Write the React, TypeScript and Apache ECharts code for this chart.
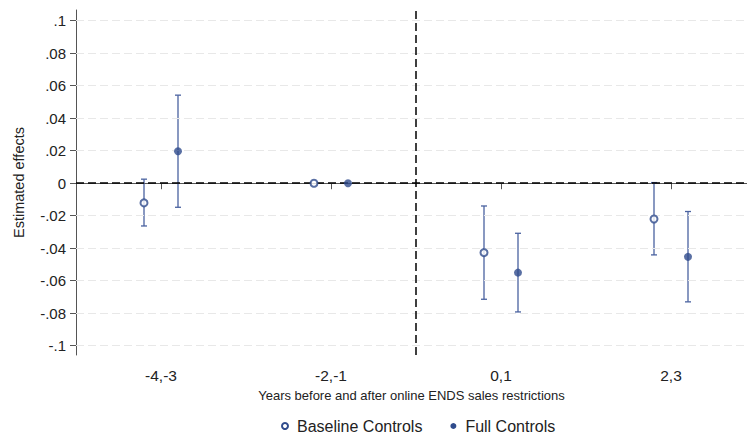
import React, { useEffect, useRef } from "react";
import * as echarts from "echarts";

const categories = ["-4,-3", "-2,-1", "0,1", "2,3"];
const yTicks = [-0.1, -0.08, -0.06, -0.04, -0.02, 0, 0.02, 0.04, 0.06, 0.08, 0.1];

const baselineEst = [-0.0121, 0, -0.0427, -0.022];
const baselineLow = [-0.0263, 0, -0.0714, -0.0441];
const baselineHigh = [0.0025, 0, -0.014, 0.0004];

const fullEst = [0.0197, 0, -0.055, -0.0453];
const fullLow = [-0.0148, 0, -0.0792, -0.073];
const fullHigh = [0.0542, 0, -0.0308, -0.0174];

const OFFSET = 0.1;
const FONT = "'Liberation Sans', Arial, sans-serif";
const LINE_COLOR = "#4a62a0";
const POINT_COLOR = "#2f4b8c";

function fmtY(v: number): string {
  const r = Math.round(v * 100) / 100;
  if (r === 0) return "0";
  let s = String(r);
  s = s.replace("0.", ".");
  return s;
}

export default function App() {
  const ref = useRef<HTMLDivElement>(null);
  useEffect(() => {
    if (!ref.current) return;
    const chart = echarts.init(ref.current, null, { renderer: "svg" });

    const baseXY = categories.map((_, i) => [i + 1 - OFFSET, baselineEst[i]]);
    const fullXY = categories.map((_, i) => [i + 1 + OFFSET, fullEst[i]]);
    const baseCI = categories.map((_, i) => [i + 1 - OFFSET, baselineLow[i], baselineHigh[i]]);
    const fullCI = categories.map((_, i) => [i + 1 + OFFSET, fullLow[i], fullHigh[i]]);

    const renderCI = (params: any, api: any) => {
      const x = api.value(0);
      const lo = api.coord([x, api.value(1)]);
      const hi = api.coord([x, api.value(2)]);
      if (Math.abs(lo[1] - hi[1]) < 0.5) return { type: "group", children: [] };
      const cap = 3;
      const style = { stroke: LINE_COLOR, lineWidth: 1.3 };
      return {
        type: "group",
        children: [
          { type: "line", shape: { x1: lo[0], y1: lo[1], x2: hi[0], y2: hi[1] }, style },
          { type: "line", shape: { x1: lo[0] - cap, y1: lo[1], x2: lo[0] + cap, y2: lo[1] }, style },
          { type: "line", shape: { x1: hi[0] - cap, y1: hi[1], x2: hi[0] + cap, y2: hi[1] }, style },
        ],
      };
    };

    const gridLines = yTicks
      .filter((v) => Math.abs(v) > 1e-9)
      .map((v) => ({ yAxis: v }));

    chart.setOption({
      animation: false,
      textStyle: { fontFamily: FONT },
      grid: { left: 76, right: 0, top: 10, bottom: 81 },
      legend: {
        top: 413,
        left: 276,
        itemWidth: 6,
        itemHeight: 6,
        itemGap: 28,
        textStyle: {
          fontSize: 16,
          lineHeight: 16,
          color: "#222",
          fontFamily: FONT,
          padding: [0, 0, 0, 4],
        },
        data: [
          { name: "Baseline Controls", icon: "emptyCircle" },
          { name: "Full Controls", icon: "circle" },
        ],
      },
      xAxis: {
        type: "value",
        min: 0.5,
        max: 0.5 + 671 / 170,
        name: "Years before and after online ENDS sales restrictions",
        nameLocation: "middle",
        nameGap: 34,
        nameTextStyle: { fontSize: 13, color: "#222", fontFamily: FONT },
        axisLine: { show: true, lineStyle: { color: "#555", width: 1 } },
        axisTick: { show: true, customValues: [1, 2, 3, 4], length: 6, lineStyle: { color: "#555" } },
        axisLabel: {
          customValues: [1, 2, 3, 4],
          formatter: (v: number) => categories[Math.round(v) - 1] ?? "",
          fontSize: 15.5,
          color: "#222",
          margin: 12,
        },
        splitLine: { show: false },
      },
      yAxis: {
        type: "value",
        min: -0.1057,
        max: 0.1066,
        name: "Estimated effects",
        nameLocation: "middle",
        nameGap: 50,
        nameRotate: 90,
        nameTextStyle: { fontSize: 14.5, color: "#222", fontFamily: FONT },
        axisLine: { show: true, lineStyle: { color: "#555", width: 1 } },
        axisTick: { show: true, customValues: yTicks, length: 6, lineStyle: { color: "#555" } },
        axisLabel: {
          customValues: yTicks,
          formatter: (v: number) => fmtY(v),
          fontSize: 15,
          color: "#222",
          margin: 10,
        },
        splitLine: { show: false },
      },
      series: [
        {
          type: "line",
          name: "gridlines",
          data: [],
          silent: true,
          markLine: {
            silent: true,
            symbol: "none",
            label: { show: false },
            lineStyle: { color: "#e8e8e8", type: [8, 4], width: 1.2 },
            data: gridLines,
          },
        },
        {
          type: "line",
          name: "refs",
          data: [],
          silent: true,
          z: 3,
          markLine: {
            silent: true,
            symbol: "none",
            label: { show: false },
            lineStyle: { color: "#000", type: [8, 4], width: 1.5 },
            data: [{ yAxis: 0 }, { xAxis: 2.5 }],
          },
        },
        {
          type: "custom",
          name: "Baseline Controls",
          renderItem: renderCI,
          data: baseCI,
          encode: { x: 0, y: [1, 2] },
          itemStyle: { color: POINT_COLOR },
          z: 4,
        },
        {
          type: "custom",
          name: "Full Controls",
          renderItem: renderCI,
          data: fullCI,
          encode: { x: 0, y: [1, 2] },
          itemStyle: { color: POINT_COLOR },
          z: 4,
        },
        {
          type: "scatter",
          name: "Baseline Controls",
          symbol: "emptyCircle",
          symbolSize: 7,
          data: baseXY,
          itemStyle: { color: POINT_COLOR, borderColor: POINT_COLOR, borderWidth: 1.2 },
          z: 5,
        },
        {
          type: "scatter",
          name: "Full Controls",
          symbol: "circle",
          symbolSize: 8,
          data: fullXY,
          itemStyle: { color: POINT_COLOR },
          z: 5,
        },
      ],
    });
    return () => chart.dispose();
  }, []);
  return (
    <div
      ref={ref}
      style={{ position: "fixed", left: 0, top: 0, width: 747, height: 436, background: "#fff" }}
    />
  );
}
